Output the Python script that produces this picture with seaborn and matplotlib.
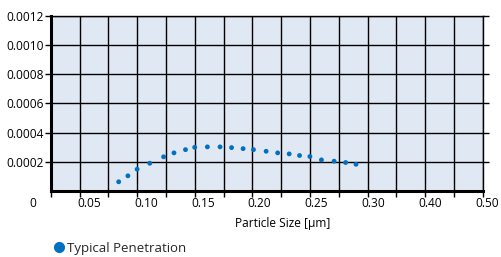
import numpy as np
import pandas as pd
import seaborn as sns
import matplotlib
matplotlib.use('Agg')
import matplotlib.pyplot as plt
import matplotlib.transforms as mtransforms
from matplotlib.lines import Line2D

#------------------------------------------------------------------------------
# Data
#------------------------------------------------------------------------------
particle_size = [0.084, 0.092, 0.100, 0.111, 0.123, 0.132, 0.142, 0.150, 0.161,
                 0.172, 0.182, 0.192, 0.201, 0.212, 0.222, 0.232, 0.241, 0.250,
                 0.260, 0.271, 0.281, 0.290]
penetration = [0.000063, 0.000104, 0.000149, 0.000190, 0.000234, 0.000261,
               0.000283, 0.000299, 0.000302, 0.000302, 0.000297, 0.000290,
               0.000283, 0.000272, 0.000261, 0.000254, 0.000243, 0.000236,
               0.000213, 0.000204, 0.000195, 0.000183]
series_name = 'Typical Penetration'

# the printed x labels are spread evenly, not on the grid
xtick_labels = ['0', '0.05', '0.10', '0.15', '0.20', '0.25', '0.30', '0.40', '0.50']
xtick_label_pos = [0.0092 + 0.0493 * i for i in range(len(xtick_labels))]
xgrid = np.arange(0.025, 0.4001, 0.025)
yticks = [0.0002, 0.0004, 0.0006, 0.0008, 0.0010, 0.0012]
ytick_labels = ['0.0002', '0.0004', '0.0006', '0.0008', '0.0010', '0.0012']

df = pd.DataFrame({'size': particle_size, 'pen': penetration, 'series': series_name})

#------------------------------------------------------------------------------
# Plot
#------------------------------------------------------------------------------
sns.set_theme(style='white')
plt.rcParams['font.family'] = ['Open Sans', 'DejaVu Sans']
blue = '#0070c0'

fig = plt.figure(figsize=(5.01, 2.57), dpi=100)
ax = fig.add_axes([0.1012, 0.2568, 0.8623, 0.6822])
ax.set_facecolor('#e0e8f4')

sns.scatterplot(data=df, x='size', y='pen', ax=ax, color=blue, s=12,
                edgecolor='none', legend=False, zorder=3)

ax.set_xlim(0.025, 0.400)
ax.set_ylim(0, 0.0012)
ax.set_xticks(xgrid)
ax.set_xticklabels([])
ax.set_yticks(yticks)
ax.set_yticklabels(ytick_labels, fontsize=8.6, color='black')
ax.grid(True, color='black', linewidth=1.0)
ax.set_axisbelow(True)

ax.tick_params(axis='x', direction='out', length=4, width=1, color='black', bottom=True, pad=2)
ax.tick_params(axis='y', direction='out', length=4, width=1, color='black', left=True, right=True, pad=1)
for side in ['top', 'right']:
    ax.spines[side].set_color('black')
    ax.spines[side].set_linewidth(1.0)
for side in ['left', 'bottom']:
    ax.spines[side].set_color('black')
    ax.spines[side].set_linewidth(2.2)

# x labels as text, since "0" sits outside the axis range
trans = mtransforms.blended_transform_factory(ax.transData, ax.transAxes)
for xp, lab in zip(xtick_label_pos, xtick_labels):
    ax.text(xp, -0.035, lab, transform=trans, ha='center', va='top',
            fontsize=8.6, color='black', clip_on=False)

ax.set_xlabel('Particle Size [µm]', fontsize=8.6, color='black')
ax.set_ylabel('')
ax.xaxis.set_label_coords(0.538, -0.148)

handle = Line2D([], [], linestyle='none', marker='o', markersize=8,
                markerfacecolor=blue, markeredgecolor='none')
fig.legend([handle], [series_name], loc='center left',
           bbox_to_anchor=(0.095, 0.035), frameon=False, fontsize=9.5,
           handletextpad=0.1, handlelength=1.0, borderaxespad=0)

fig.savefig('out.png', dpi=100)
